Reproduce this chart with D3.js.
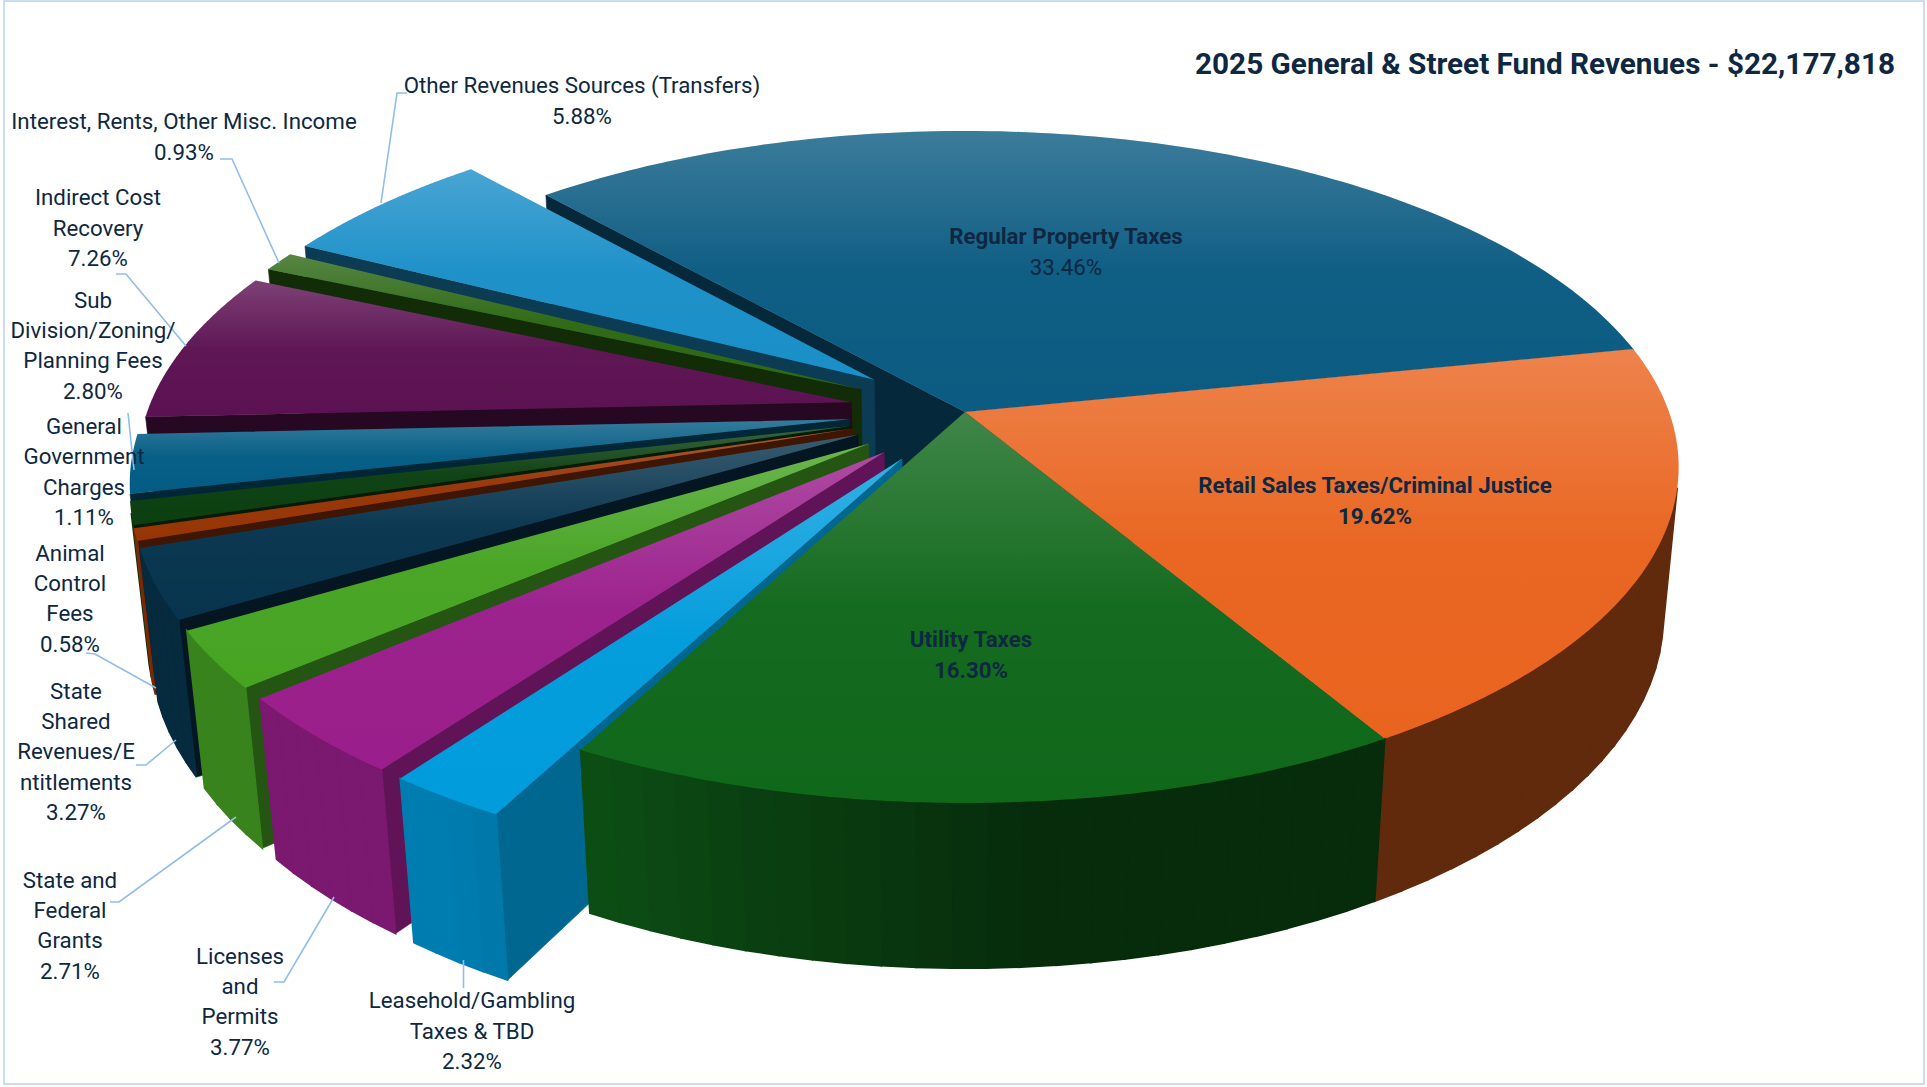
<!DOCTYPE html>
<html>
<head>
<meta charset="utf-8">
<script src="https://cdn.jsdelivr.net/npm/d3@7/dist/d3.min.js"></script>
<style>
  html, body { margin: 0; padding: 0; background: #fff; }
  svg { display: block; }
  text { font-family: Roboto, "Noto Sans", sans-serif; fill: #0e2841; }
</style>
</head>
<body>
<svg id="chart" width="1927" height="1087"></svg>
<script>
// Fund revenue shares, clockwise from the property-tax slice.
const categories = [
  "Regular Property Taxes", "Retail Sales Taxes/Criminal Justice", "Utility Taxes",
  "Leasehold/Gambling Taxes & TBD", "Licenses and Permits", "State and Federal Grants",
  "State Shared Revenues/Entitlements", "Animal Control Fees", "General Government Charges",
  "Sub Division/Zoning/Planning Fees", "Indirect Cost Recovery",
  "Interest, Rents, Other Misc. Income", "Other Revenues Sources (Transfers)"
];
const shares = [33.46, 19.62, 16.30, 2.32, 3.77, 2.71, 3.27, 0.58, 1.11, 2.80, 7.26, 0.93, 5.88];
const chartTitle = "2025 General & Street Fund Revenues - $22,177,818";

// Wrapped label text for each slice.
const labelLines = [
  ["Regular Property Taxes"], ["Retail Sales Taxes/Criminal Justice"], ["Utility Taxes"],
  ["Leasehold/Gambling", "Taxes & TBD"], ["Licenses", "and", "Permits"], ["State and", "Federal", "Grants"],
  ["State", "Shared", "Revenues/E", "ntitlements"], ["Animal", "Control", "Fees"], ["General", "Government", "Charges"],
  ["Sub", "Division/Zoning/", "Planning Fees"], ["Indirect Cost", "Recovery"],
  ["Interest, Rents, Other Misc. Income"], ["Other Revenues Sources (Transfers)"]
];

const palette = ["#0b5b82", "#e9641f", "#10681b", "#009cdc", "#9a1e8b", "#47a423",
                 "#07344e", "#973506", "#0b3f10", "#035c84", "#5c1252", "#2d6814", "#1a8fc8"];

// Label anchors: centre x, first-line centre y, bold flags.
const labelAnchors = [
  { x: 1066, y: 236, bold: true, boldPct: false, lineH: 30.5 },
  { x: 1375, y: 485, bold: true, boldPct: true, lineH: 30.5 },
  { x: 971, y: 639, bold: true, boldPct: true, lineH: 30.5 },
  { x: 472, y: 1000, lineH: 30.5 },
  { x: 240, y: 956, lineH: 30.2 },
  { x: 70, y: 880, lineH: 30.2 },
  { x: 76, y: 691, lineH: 30.2 },
  { x: 70, y: 553, lineH: 30.2 },
  { x: 84, y: 426, lineH: 30.4 },
  { x: 93, y: 300, lineH: 30.2 },
  { x: 98, y: 197, lineH: 30.5 },
  { x: 184, y: 121, lineH: 30.5 },
  { x: 582, y: 85, lineH: 30.5 }
];

// Leader polylines for the outside labels.
const leaders = [
  [[407, 93], [397, 93], [381, 203]],
  [[220, 159], [232, 159], [279, 263]],
  [[116, 274], [126, 274], [186, 346]],
  [[128, 413], [134, 470]],
  [[86, 653], [95, 654], [156, 688]],
  [[136, 765], [146, 765], [176, 740]],
  [[110, 902], [119, 902], [236, 817]],
  [[274, 982], [284, 982], [334, 897]],
  [[463.5, 988], [463.5, 960]]
];

const svg = d3.select("#chart");

// Perspective of the tilted disc: X,Y lie on the unit disc, Z runs down through the slab.
const centre = { x: 965, y: 412 };
const persp = { B: 704, A: 327, C: 150, k: 0.1636, m: 0.021 };
function project(X, Y, Z) {
  const w = 1 - persp.k * Y + persp.m * Z;
  return [centre.x + persp.B * X / w, centre.y + (persp.A * Y + persp.C * Z) / w];
}

const firstExploded = 3;
const explodeBy = 0.165;
const startDeg = -41.9;

const pie = d3.pie().sort(null).value(d => d)
  .startAngle(startDeg * Math.PI / 180)
  .endAngle((startDeg + 360) * Math.PI / 180);

const toPath = d3.line();
const shadeArc = d3.scaleLinear().domain([175, 212]).range([0.42, 0.8]).clamp(true);
const shadeSide = d3.scaleLinear().domain([220, 245]).range([0.66, 0.42]).clamp(true);
const normDeg = a => ((a * 180 / Math.PI) % 360 + 360) % 360;

const slices = pie(shares).map((p, i) => {
  const mid = (p.startAngle + p.endAngle) / 2;
  const off = i >= firstExploded ? explodeBy : 0;
  return {
    i, a0: p.startAngle, a1: p.endAngle, mid,
    ox: off * Math.sin(mid), oy: -off * Math.cos(mid)
  };
});

// Back slices are painted first so nearer ones overlap them.
const order = slices.slice().sort((a, b) => (-Math.cos(a.mid)) - (-Math.cos(b.mid)));

const defs = svg.append("defs");
const shine = defs.append("linearGradient").attr("id", "shine")
  .attr("x1", 0).attr("y1", 0).attr("x2", 0).attr("y2", 1);
shine.append("stop").attr("offset", 0).attr("stop-color", "#fff").attr("stop-opacity", 0.2);
shine.append("stop").attr("offset", 0.5).attr("stop-color", "#fff").attr("stop-opacity", 0.02);
shine.append("stop").attr("offset", 1).attr("stop-color", "#fff").attr("stop-opacity", 0);

// Picture frame
svg.append("rect").attr("x", 4).attr("y", 1).attr("width", 1920).attr("height", 1083)
  .attr("fill", "#fff").attr("stroke", "#c9dcf1").attr("stroke-width", 2);

const pieG = svg.append("g");

function darken(col, f) {
  const c = d3.rgb(col);
  return d3.rgb(c.r * f, c.g * f, c.b * f).formatHex();
}
function facesViewer(q) {
  let s = 0;
  q.forEach((p, n) => {
    const r = q[(n + 1) % q.length];
    s += p[0] * r[1] - r[0] * p[1];
  });
  return s < 0;
}

order.forEach(s => {
  const g = pieG.append("g").attr("class", "slice");
  const base = palette[s.i];
  const rim = a => [s.ox + Math.sin(a), s.oy - Math.cos(a)];
  const apex = [s.ox, s.oy];
  const at = (pt, z) => project(pt[0], pt[1], z);

  const sideShade = s.i === 0 ? 0.45 : shadeSide(normDeg(s.mid));
  const wall = (a, b, fill, overlap) => {
    const q = [at(a, 0), at(b, 0), at(b, 1), at(a, 1)];
    if (!facesViewer(q)) return;
    g.append("path").attr("d", toPath(q) + "Z").attr("fill", fill)
      .attr("stroke", fill).attr("stroke-width", overlap);
  };

  wall(apex, rim(s.a0), darken(base, sideShade), 0.6);
  wall(rim(s.a1), apex, darken(base, sideShade), 0.6);

  const span = s.a1 - s.a0;
  const steps = Math.max(2, Math.ceil(span / (2.5 * Math.PI / 180)));
  const angles = d3.range(steps + 1).map(n => s.a0 + span * n / steps);
  d3.pairs(angles).forEach(([a, b]) => {
    wall(rim(a), rim(b), darken(base, shadeArc(normDeg((a + b) / 2))), 1.6);
  });

  const fine = d3.range(121).map(n => s.a0 + span * n / 120);
  const outline = [at(apex, 0)].concat(fine.map(a => at(rim(a), 0)));
  g.append("path").attr("d", toPath(outline) + "Z").attr("fill", base);
  g.append("path").attr("d", toPath(outline) + "Z").attr("fill", "url(#shine)");
});

// Leader lines
svg.append("g").selectAll("path").data(leaders).join("path")
  .attr("d", d => toPath(d)).attr("fill", "none")
  .attr("stroke", "#90bdea").attr("stroke-width", 1.6);

// Labels
const fmt = d3.format(".2f");
const labelG = svg.append("g").attr("text-anchor", "middle").attr("font-size", 22.3);
categories.forEach((name, i) => {
  const an = labelAnchors[i];
  const rows = labelLines[i].map(t => ({ t, bold: !!an.bold }));
  rows.push({ t: fmt(shares[i]) + "%", bold: !!an.boldPct });
  labelG.append("text").attr("aria-label", name)
    .selectAll("tspan").data(rows).join("tspan")
    .attr("x", an.x)
    .attr("y", (d, n) => an.y + n * an.lineH)
    .attr("dominant-baseline", "central")
    .attr("font-weight", d => d.bold ? 700 : 400)
    .text(d => d.t);
});

// Title, fitted to its measured run
svg.append("text").attr("x", 1895).attr("y", 64)
  .attr("text-anchor", "end").attr("dominant-baseline", "central")
  .attr("font-size", 29).attr("font-weight", 700)
  .attr("textLength", 700).attr("lengthAdjust", "spacingAndGlyphs")
  .text(chartTitle);
</script>
</body>
</html>
